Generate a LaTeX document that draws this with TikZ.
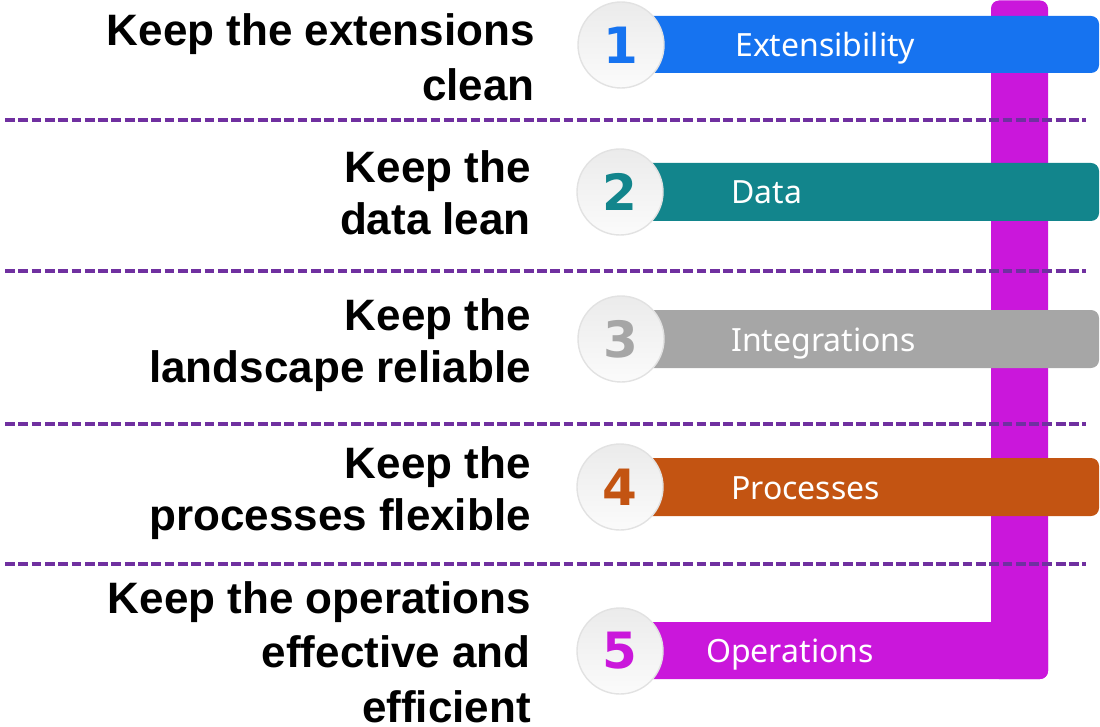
\documentclass[tikz,border=0pt]{standalone}
\usepackage{fontspec}
\setmainfont{Liberation Sans}
\newfontfamily\labelfont{Noto Sans}
\newfontfamily\numfont{DejaVu Sans}
\definecolor{cblue}{RGB}{22,115,240}
\definecolor{cteal}{RGB}{18,133,140}
\definecolor{cgray}{RGB}{166,166,166}
\definecolor{corange}{RGB}{195,84,18}
\definecolor{cmag}{RGB}{202,23,219}
\definecolor{sepviolet}{RGB}{112,48,160}
\definecolor{ringgray}{RGB}{226,226,226}
\begin{document}
\begin{tikzpicture}[x=1pt,y=-1pt,
  headtext/.style={font=\fontsize{44}{54}\selectfont\bfseries, align=right, anchor=base east, inner sep=0pt},
  bartext/.style={font=\labelfont\fontsize{32}{38}\selectfont, text=white, anchor=base west, inner sep=0pt},
  numcircle/.style={circle, minimum size=86pt, inner sep=0pt, draw=ringgray, line width=1.4pt,
     top color={rgb,255:red,235;green,235;blue,235}, bottom color={rgb,255:red,251;green,251;blue,251},
     font=\numfont\bfseries\fontsize{50}{50}\selectfont},
  barshape/.style={rounded corners=8pt},
  sepline/.style={draw=sepviolet, line width=3.2pt, dash pattern=on 9.8pt off 3.5pt}
]
\useasboundingbox (0,0) rectangle (1100,727);
% magenta L-shaped track
\fill[cmag, barshape] (991,0.5) rectangle (1048,679);
\fill[cmag, barshape] (630,622) rectangle (1048,679);
% horizontal bars
\fill[cblue, barshape] (630,16) rectangle (1099,73);
\fill[cteal, barshape] (630,163) rectangle (1099,221);
\fill[cgray, barshape] (630,310) rectangle (1099,368);
\fill[corange, barshape] (630,458) rectangle (1099,516);
% separators
\draw[sepline] (5,120) -- (1086,120);
\draw[sepline] (5,271) -- (1086,271);
\draw[sepline] (5,424) -- (1086,424);
\draw[sepline] (5,564) -- (1086,564);
% bar labels
\node[bartext] (l1) at (735,57) {Extensibility};
\node[bartext] (l2) at (731,204) {Data};
\node[bartext] (l3) at (731,351) {Integrations};
\node[bartext] (l4) at (731,499) {Processes};
\node[bartext] (l5) at (706,662) {Operations};
% number circles
\node[numcircle, text=cblue] (n1) at (621,45) {1};
\node[numcircle, text=cteal] (n2) at (620,192) {2};
\node[numcircle, text=cgray] (n3) at (621,339) {3};
\node[numcircle, text=corange] (n4) at (620,487) {4};
\node[numcircle, text=cmag] (n5) at (620,651) {5};
% headings (anchored at the baseline of their last line)
\node[headtext, font=\fontsize{44}{55}\selectfont\bfseries] (h1) at (535,101) {Keep the extensions\\clean};
\node[headtext, font=\fontsize{44}{52}\selectfont\bfseries] (h2) at (531,235) {Keep the\\data lean};
\node[headtext, font=\fontsize{44}{52}\selectfont\bfseries] (h3) at (531,382) {Keep the\\landscape reliable};
\node[headtext, font=\fontsize{44}{52}\selectfont\bfseries] (h4) at (531,530) {Keep the\\processes flexible};
\node[headtext, font=\fontsize{44}{54.5}\selectfont\bfseries] (h5) at (531,722) {Keep the operations\\effective and\\efficient};
\end{tikzpicture}
\end{document}
